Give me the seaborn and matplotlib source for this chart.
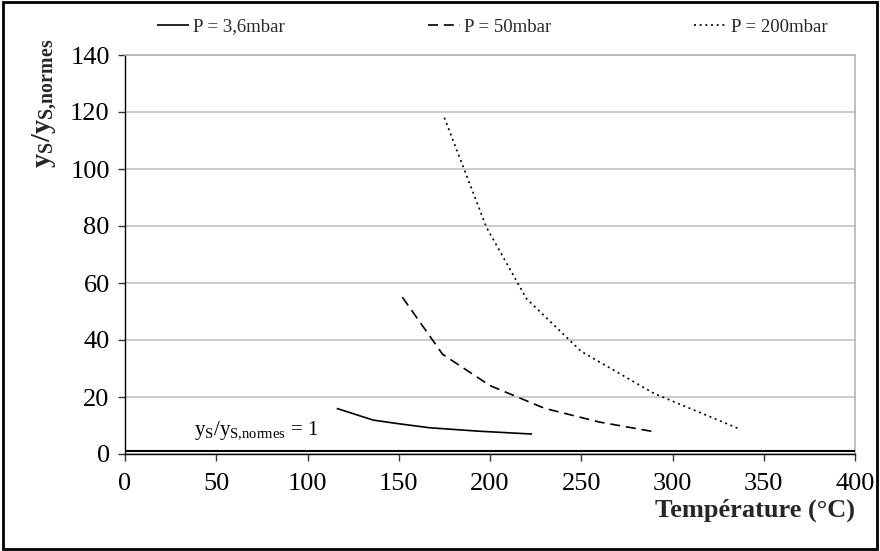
import matplotlib
matplotlib.use('Agg')
import matplotlib.pyplot as plt
import seaborn as sns
import pandas as pd
from matplotlib.lines import Line2D
from matplotlib.patches import Rectangle

# donnees
temp_36 = [116, 136, 149, 167, 194, 223]
ratio_36 = [16.0, 11.9, 10.7, 9.2, 8.0, 7.0]
temp_50 = [152, 174, 200, 230, 260, 290]
ratio_50 = [55.0, 35.0, 24.0, 16.0, 11.2, 7.8]
temp_200 = [175, 198, 220, 250, 290, 337]
ratio_200 = [118.0, 79.6, 54.5, 36.0, 21.2, 8.7]
labels = ['P = 3,6mbar', 'P = 50mbar', 'P = 200mbar']
x_ticks = [0, 50, 100, 150, 200, 250, 300, 350, 400]
y_ticks = [0, 20, 40, 60, 80, 100, 120, 140]
ratio_norme = 1

sns.set(style="white")
plt.rcParams['font.family'] = ['Liberation Serif', 'DejaVu Serif']
plt.rcParams['mathtext.fontset'] = 'custom'
plt.rcParams['mathtext.rm'] = 'Liberation Serif'
plt.rcParams['mathtext.bf'] = 'Liberation Serif:bold'
plt.rcParams['mathtext.it'] = 'Liberation Serif:italic'

fig = plt.figure(figsize=(8.8, 5.51), dpi=100)
ax = fig.add_axes([125/880, 1-454/551, 730/880, 399/551])

styles = [(0, ()), (0, (6, 3.5)), (0, (1.2, 2.2))]
series = [(temp_36, ratio_36), (temp_50, ratio_50), (temp_200, ratio_200)]
for (t, r), ls, lab in zip(series, styles, labels):
    df = pd.DataFrame({'T': t, 'r': r})
    sns.lineplot(data=df, x='T', y='r', ax=ax, color='black', lw=1.2,
                 linestyle=ls, legend=False)

# ligne y = 1
ax.axhline(ratio_norme, color='black', lw=1.5, zorder=3)
ax.text(38, 8, r'$\mathrm{y_S/y_{S{,}normes}}$ = 1', fontsize=15, va='center',
        ha='left', color='black')

ax.set_xlim(0, 400)
ax.set_ylim(0, 140)
ax.set_xticks(x_ticks)
ax.set_yticks(y_ticks)
ax.tick_params(axis='both', labelsize=19, direction='out', length=5, width=1,
               colors='#333333', labelcolor='black', pad=6)
ax.tick_params(axis='x', bottom=True, pad=9)
ax.tick_params(axis='y', left=True)
ax.yaxis.grid(True, color='#c4c4c4', lw=1.2)
ax.xaxis.grid(False)
ax.set_axisbelow(True)
for s in ['top', 'right']:
    ax.spines[s].set_color('#b4b4b4')
    ax.spines[s].set_linewidth(1.2)
for s in ['left', 'bottom']:
    ax.spines[s].set_color('black')
    ax.spines[s].set_linewidth(1.0)

ax.set_xlabel('')
ax.set_ylabel('')
fig.text(855/880, 1-510/551, 'Température (°C)', fontsize=19, fontweight='bold',
         ha='right', va='center')
fig.text(45/880, 1-103/551, r'$\mathbf{y_S/y_{S{,}normes}}$', fontsize=20.5,
         rotation=90, ha='center', va='center')

handles = [Line2D([], [], color='black', lw=1.2, linestyle=ls) for ls in styles]
fig.legend(handles, labels, loc='center', bbox_to_anchor=(492/880, 1-27/551),
           ncol=3, frameon=False, fontsize=13.5, handlelength=1.7,
           handletextpad=0.25, columnspacing=7.6)

fig.patches.append(Rectangle((0.003, 0.004), 0.994, 0.992, transform=fig.transFigure,
                             fill=False, edgecolor='black', lw=2, zorder=10))

plt.savefig('out.png', dpi=100)
plt.close()
